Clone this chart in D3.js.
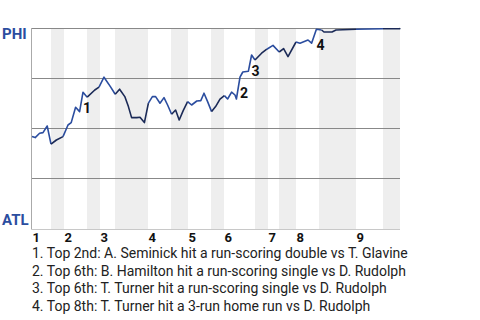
<!DOCTYPE html>
<html>
<head>
<meta charset="utf-8">
<script src="https://cdn.jsdelivr.net/npm/d3@7"></script>
<style>
  body { margin: 0; background: #fff; }
  text { font-family: Roboto, "Noto Sans", sans-serif; }
</style>
</head>
<body>
<div id="chart"></div>
<script>
// teams: away on top, home at bottom
const teams = ["PHI", "ATL"];
const innings = [1, 2, 3, 4, 5, 6, 7, 8, 9];
// game progress (events) where each inning starts
const inningStart = [0, 8, 17, 29, 39, 48, 59, 66, 81];
// bottom half-innings, shaded
const bottomHalves = [[4.75, 8], [13.75, 17], [20.75, 29], [34.75, 39], [44.75, 48],
  [55.75, 59], [61.75, 66], [71.75, 81], [87.75, 92]];

// PHI win probability (%) over the game
const progress = [0, 0.8, 1.9, 2.75, 3.8, 4.75, 6.1, 7.75, 9, 9.8, 10.9, 11.9, 12.75, 13.8,
  15.7, 16.75, 18, 19.6, 20.8, 21.9, 23.2, 24.1, 24.9, 26.2, 27, 28.1, 29.1, 30.1, 30.9,
  32, 33, 33.9, 34.9, 35.9, 36.8, 37.8, 38.9, 39.9, 41.2, 42.2, 43, 43.9, 44.9, 45.9, 47,
  48.1, 48.9, 49.9, 50.75, 51.1, 52, 52.7, 54.1, 54.9, 55.75, 57.4, 58.7, 60.25, 61.8,
  62.9, 64, 66, 67, 69, 69.9, 71.1, 72.4, 73, 75, 76, 81, 87.75, 91.9, 92];
const winProb = [45.8, 45.2, 47.4, 47.7, 51, 41.9, 44, 45.7, 51.5, 52.7, 60.4, 58.2, 67.9, 65.4,
  69, 70.4, 75.4, 70.7, 66.9, 69.4, 65.7, 60.7, 55.2, 55.2, 55.4, 52.7, 62.4, 65.7, 65.7,
  62.4, 65.2, 61.5, 56.9, 59, 54, 58.7, 63.2, 61.5, 63.5, 63.7, 67.4, 63.2, 58.2, 60.7, 64.4,
  66.2, 64.5, 67.9, 66.5, 64.5, 75.4, 78, 78.4, 86.5, 84, 87.4, 89.4, 91.3, 88,
  89.7, 85.7, 93, 92.4, 94, 92.4, 99.4, 99, 98, 98, 99, 99.4, 99.6, 99.6, 100];

const noteEvents = [12.75, 52, 54.9, 71.1];
const notes = [
  "1. Top 2nd: A. Seminick hit a run-scoring double vs T. Glavine",
  "2. Top 6th: B. Hamilton hit a run-scoring single vs D. Rudolph",
  "3. Top 6th: T. Turner hit a run-scoring single vs D. Rudolph",
  "4. Top 8th: T. Turner hit a 3-run home run vs D. Rudolph"
];

const width = 480, height = 320;
const margin = {top: 28, right: 80, bottom: 92, left: 32};
const topColor = "#2b4d9f", bottomColor = "#1b2a57";

const svg = d3.select("#chart").append("svg")
  .attr("width", width).attr("height", height);

const x = d3.scaleLinear().domain([0, 92]).range([margin.left, width - margin.right]);
const y = d3.scaleLinear().domain([0, 100]).range([height - margin.bottom, margin.top]);

// shaded bottom halves
svg.append("g").selectAll("rect")
  .data(bottomHalves)
  .join("rect")
    .attr("x", d => x(d[0]))
    .attr("width", d => x(d[1]) - x(d[0]))
    .attr("y", y(100))
    .attr("height", y(0) - y(100) + 1.5)
    .attr("fill", "#eeeeee");

// gridlines
svg.append("g")
  .attr("transform", `translate(${margin.left},0)`)
  .call(d3.axisLeft(y).tickValues([25, 50, 75, 100]).tickSize(-(x(92) - x(0))).tickFormat(""))
  .call(g => g.select(".domain").remove())
  .call(g => g.selectAll(".tick line").attr("stroke", "#888").attr("stroke-width", 1));

// axis lines
svg.append("line")
  .attr("x1", x(0) - 0.5).attr("x2", x(0) - 0.5)
  .attr("y1", y(100)).attr("y2", y(0) + 1.5)
  .attr("stroke", "#aaa");
svg.append("line")
  .attr("x1", x(0) - 0.5).attr("x2", x(92))
  .attr("y1", y(0) + 1.5).attr("y2", y(0) + 1.5)
  .attr("stroke", "#c8c8c8");

// inning labels
svg.append("g")
  .attr("transform", `translate(0,${y(0) + 1.5})`)
  .call(d3.axisBottom(x).tickValues(inningStart).tickSize(0)
    .tickFormat((d, i) => innings[i]))
  .call(g => g.select(".domain").remove())
  .call(g => g.selectAll("text")
    .attr("text-anchor", "start")
    .attr("dy", 0).attr("y", 12)
    .attr("font-size", 13).attr("font-weight", "bold")
    .attr("font-family", "Roboto, sans-serif")
    .attr("fill", "#111"));

// team labels
svg.append("text").attr("x", 2).attr("y", y(100) + 11.3)
  .attr("font-size", 15).attr("font-weight", "bold").attr("fill", topColor).text(teams[0]);
svg.append("text").attr("x", 2).attr("y", y(0) - 3)
  .attr("font-size", 15).attr("font-weight", "bold").attr("fill", topColor).text(teams[1]);

// win probability line, coloured by half-inning
const pts = progress.map((e, i) => ({e: e, wp: winProb[i]}));
const isBottom = m => bottomHalves.some(([a, b]) => m > a && m < b);
const runs = [];
for (let i = 0; i < pts.length - 1; i++) {
  const b = isBottom((pts[i].e + pts[i + 1].e) / 2);
  const last = runs[runs.length - 1];
  if (last && last.bottom === b) last.pts.push(pts[i + 1]);
  else runs.push({bottom: b, pts: [pts[i], pts[i + 1]]});
}
const line = d3.line().x(d => x(d.e)).y(d => y(d.wp));
svg.append("g").selectAll("path")
  .data(runs)
  .join("path")
    .attr("d", d => line(d.pts))
    .attr("fill", "none")
    .attr("stroke", d => d.bottom ? bottomColor : topColor)
    .attr("stroke-width", 1.6)
    .attr("stroke-linejoin", "round");

// event markers
svg.append("g").selectAll("text")
  .data(noteEvents)
  .join("text")
    .attr("x", d => x(d))
    .attr("y", d => y(winProb[progress.indexOf(d)]) + 20.5)
    .attr("font-size", 14).attr("font-weight", "bold").attr("fill", "#111")
    .text((d, i) => i + 1);

// notes
svg.append("g").selectAll("text")
  .data(notes)
  .join("text")
    .attr("x", 32)
    .attr("y", (d, i) => 257.8 + i * 17.8)
    .attr("font-size", 14).attr("fill", "#222")
    .text(d => d);
</script>
</body>
</html>
